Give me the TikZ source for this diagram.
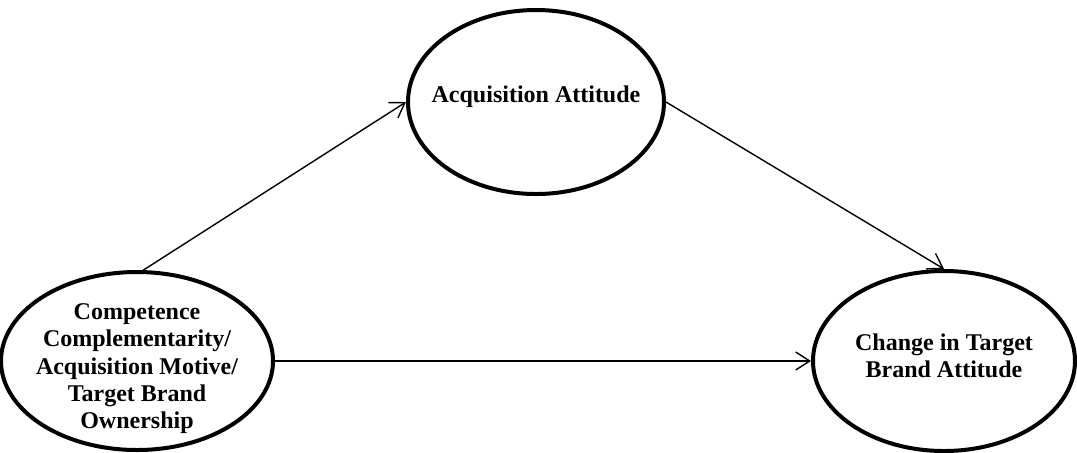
\documentclass[tikz,border=0pt]{standalone}
\usepackage{fontspec}
\setmainfont{Liberation Serif}
\usetikzlibrary{shapes.geometric,arrows.meta}

\tikzset{
  construct/.style={ellipse, draw, line width=2pt, align=center,
    font=\fontsize{12}{13.6}\selectfont\bfseries, inner sep=-10pt},
  path arrow/.style={line width=0.7pt, -{Straight Barb[length=7pt,width=9pt]}}
}

\begin{document}
\begin{tikzpicture}[x=0.5pt, y=-0.5pt]
        \useasboundingbox (0,0) rectangle (1077,452);
        \node[construct, minimum width=136pt, minimum height=89pt] (motive) at (137,361)
            {\mbox{}\\[2pt]Competence\\Complementarity/\\Acquisition Motive/\\Target Brand\\Ownership};
        \node[construct, minimum width=128pt, minimum height=92pt] (attitude) at (536,102)
            {Acquisition Attitude\\[-6pt]\mbox{}};
        \node[construct, minimum width=131pt, minimum height=90pt] (change) at (944,361)
            {Change in Target\\Brand Attitude\\[-8pt]\mbox{}};
        \draw[path arrow] (motive.86) -- (attitude.west);
        \draw[path arrow] (attitude.east) -- (change.north);
        \draw[path arrow] (motive.east) -- (change.west);
    \end{tikzpicture}
\end{document}
